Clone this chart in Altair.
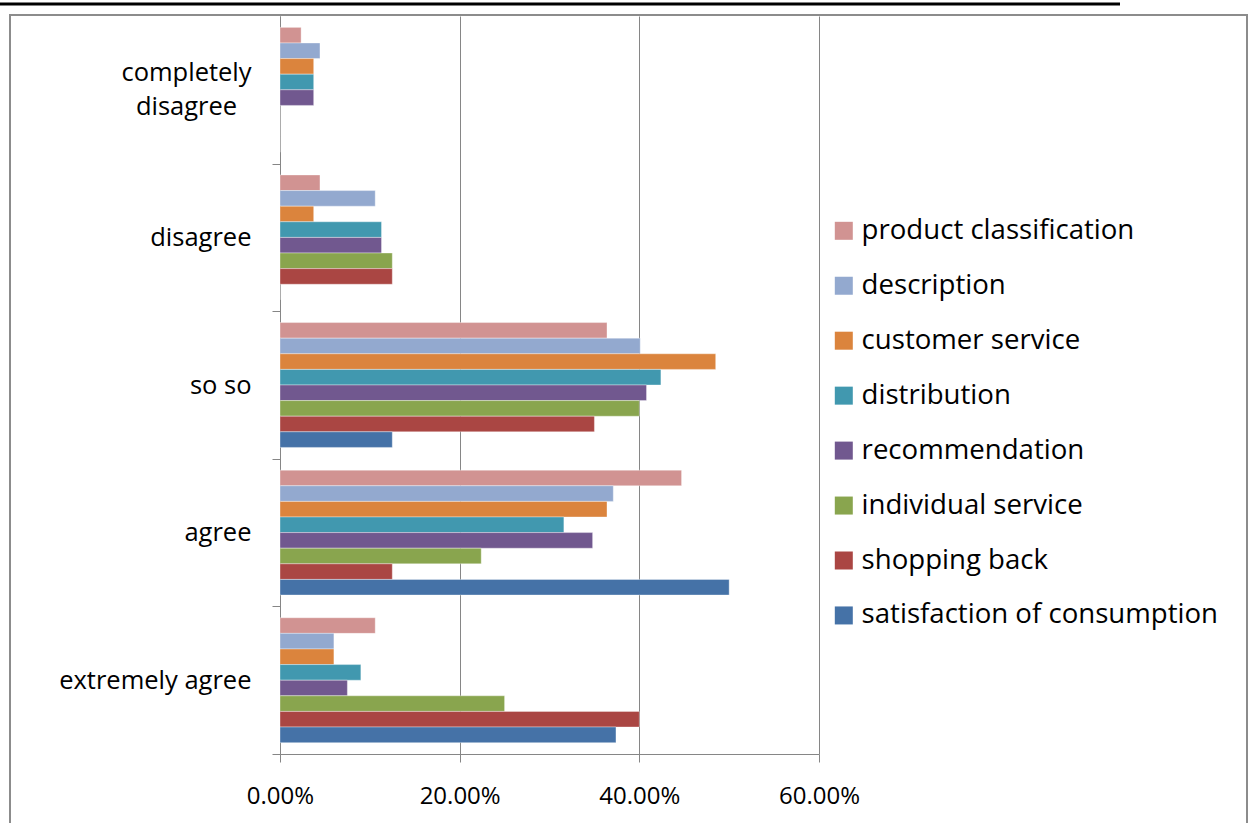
import altair as alt
import pandas as pd

categories = ["completely disagree", "disagree", "so so", "agree", "extremely agree"]
series = [
    "product classification",
    "description",
    "customer service",
    "distribution",
    "recommendation",
    "individual service",
    "shopping back",
    "satisfaction of consumption",
]
colors = ["#D19392", "#93A9CF", "#DB843D", "#4198AF", "#71588F", "#89A54E", "#AA4643", "#4572A7"]

# values per category (completely disagree, disagree, so so, agree, extremely agree)
product_classification = [0.0235, 0.0445, 0.364, 0.447, 0.106]
description = [0.0445, 0.106, 0.401, 0.371, 0.060]
customer_service = [0.0375, 0.0375, 0.485, 0.364, 0.060]
distribution = [0.0375, 0.113, 0.424, 0.316, 0.090]
recommendation = [0.0375, 0.113, 0.408, 0.348, 0.075]
individual_service = [0.0, 0.125, 0.400, 0.224, 0.250]
shopping_back = [0.0, 0.125, 0.350, 0.125, 0.400]
satisfaction_of_consumption = [0.0, 0.0, 0.125, 0.500, 0.374]

x_ticks = [0, 0.2, 0.4, 0.6]

series_values = [
    product_classification,
    description,
    customer_service,
    distribution,
    recommendation,
    individual_service,
    shopping_back,
    satisfaction_of_consumption,
]

rows = []
for s, vals in zip(series, series_values):
    for c, v in zip(categories, vals):
        rows.append({"category": c, "series": s, "value": v})
df = pd.DataFrame(rows)

FONT = "Open Sans"
GRAY = "#868686"
TWO_LINE = "datum.value == 'completely disagree'"

bars = alt.Chart(df).mark_bar(stroke="white", strokeWidth=0.6, strokeOpacity=0.6).encode(
    x=alt.X(
        "value:Q",
        scale=alt.Scale(domain=[0, 0.6], nice=False, zero=True),
        axis=alt.Axis(
            values=x_ticks,
            format=".2%",
            title=None,
            grid=True,
            gridColor=GRAY,
            gridWidth=1,
            domainColor=GRAY,
            domainWidth=1,
            tickColor=GRAY,
            tickSize=8,
            labelFont=FONT,
            labelFontSize=24,
            labelColor="#000000",
            labelPadding=22,
            labelFlush=False,
        ),
    ),
    y=alt.Y(
        "category:N",
        sort=categories,
        scale=alt.Scale(paddingInner=0.154, paddingOuter=0.077),
        axis=alt.Axis(
            title=None,
            bandPosition=1,
            tickExtra=False,
            tickOffset=11.4,
            domainColor=GRAY,
            domainWidth=1,
            tickColor=GRAY,
            tickSize=8,
            labelFont=FONT,
            labelFontSize=25.5,
            labelColor="#000000",
            labelLimit=400,
            labelLineHeight=34,
            labelExpr="datum.value == 'completely disagree' ? ['completely', 'disagree'] : datum.label",
            labelOffset={"condition": {"test": TWO_LINE, "value": -28.4}, "value": -11.4},
            labelPadding={"condition": {"test": TWO_LINE, "value": 86}, "value": 21},
            labelAlign={"condition": {"test": TWO_LINE, "value": "center"}, "value": "right"},
        ),
    ),
    yOffset=alt.YOffset(
        "series:N", sort=series, scale=alt.Scale(paddingInner=0, paddingOuter=0)
    ),
    color=alt.Color(
        "series:N",
        sort=series,
        scale=alt.Scale(domain=series, range=colors),
        legend=alt.Legend(
            title=None,
            orient="none",
            legendX=550,
            legendY=201,
            symbolType="square",
            symbolSize=324,
            symbolStrokeWidth=0,
            labelFont=FONT,
            labelFontSize=27.6,
            labelColor="#000000",
            labelOffset=4,
            labelLimit=500,
            rowPadding=25.95,
        ),
    ),
)

one = pd.DataFrame({"k": [0]})

frame = alt.Chart(one).mark_rect(fill=None, stroke="#8c8c8c", strokeWidth=2).encode(
    x=alt.value(-270), x2=alt.value(967), y=alt.value(-1), y2=alt.value(840)
)

topline = alt.Chart(one).mark_rule(color="#000000", strokeWidth=3).encode(
    x=alt.value(-280), x2=alt.value(840), y=alt.value(-12)
)

chart = (
    alt.layer(frame, topline, bars)
    .properties(
        width=539,
        height=738,
        autosize=alt.AutoSizeParams(type="none"),
        padding={"left": 280, "top": 16, "right": 435, "bottom": 69},
        background="white",
    )
    .configure_view(stroke=None)
)

chart.save("out.html", embed_options={"renderer": "svg", "actions": False})
